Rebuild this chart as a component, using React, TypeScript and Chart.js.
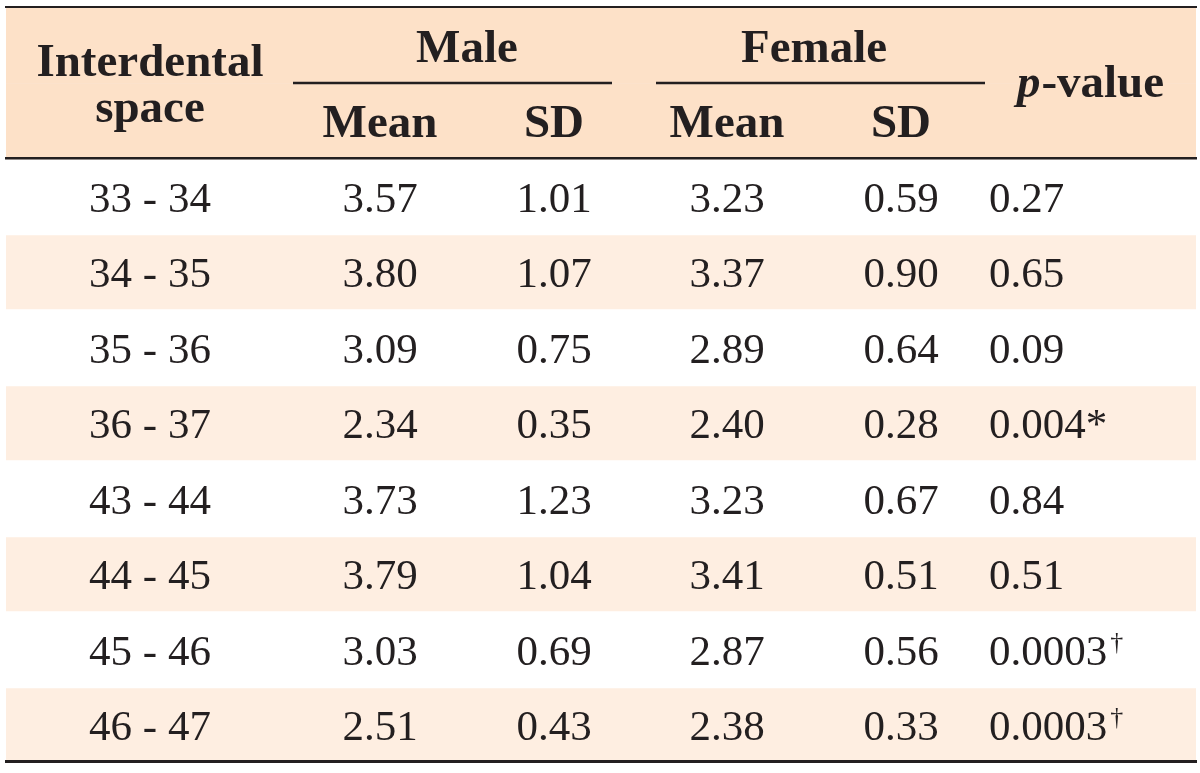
import React, { useEffect, useRef } from 'react';
import { Chart, registerables } from 'chart.js';

Chart.register(...registerables);

// ---- data ----
const rowLabels = ['33 - 34', '34 - 35', '35 - 36', '36 - 37', '43 - 44', '44 - 45', '45 - 46', '46 - 47'];
const maleMean = [3.57, 3.8, 3.09, 2.34, 3.73, 3.79, 3.03, 2.51];
const maleSD = [1.01, 1.07, 0.75, 0.35, 1.23, 1.04, 0.69, 0.43];
const femaleMean = [3.23, 3.37, 2.89, 2.4, 3.23, 3.41, 2.87, 2.38];
const femaleSD = [0.59, 0.9, 0.64, 0.28, 0.67, 0.51, 0.56, 0.33];
const pValues = ['0.27', '0.65', '0.09', '0.004', '0.84', '0.51', '0.0003', '0.0003'];
const pMarks = ['', '', '', '*', '', '', '†', '†'];
const groupHeaders = ['Male', 'Female'];
const subHeaders = ['Mean', 'SD'];
const firstHeader = ['Interdental', 'space'];
const headerSlots = ['header-top', 'header-bottom'];

// ---- layout (x positions in table units, 0..1190) ----
const COL = { label: 144, mMean: 374, mSD: 548, fMean: 721, fSD: 895, pLeft: 983, pHead: 1084 };
const GROUP = [
  { center: 461, from: 287, to: 606 },
  { center: 808, from: 650, to: 979 },
];
const X_MAX = 1190;

const INK = '#231f20';
const HEADER_BG = '#fde1c8';
const STRIPE_BG = '#feeee1';
const SERIF = '"Liberation Serif", "Times New Roman", serif';

const tablePlugin = {
  id: 'tableText',
  afterDatasetsDraw(chart: any) {
    const { ctx, chartArea } = chart;
    const xs = chart.scales.x;
    const ys = chart.scales.y;
    const X = (v: number) => xs.getPixelForValue(v);
    const Y = (i: number) => ys.getPixelForValue(i);
    const slotH = Y(1) - Y(0);
    const mid = Y(0) + slotH / 2;
    ctx.save();
    ctx.fillStyle = INK;
    ctx.strokeStyle = INK;

    const rule = (yy: number, w: number, x0 = chartArea.left - 1, x1 = chartArea.right + 1) => {
      ctx.lineWidth = w;
      ctx.beginPath();
      ctx.moveTo(x0, yy);
      ctx.lineTo(x1, yy);
      ctx.stroke();
    };
    rule(chartArea.top - 1, 2);
    rule(Y(1) + slotH / 2 - 0.8, 2.5);
    rule(chartArea.bottom - 1.5, 3);
    GROUP.forEach((g) => rule(mid - 0.5, 2.5, X(g.from), X(g.to)));

    // header text
    ctx.font = `bold 47px ${SERIF}`;
    ctx.textAlign = 'center';
    ctx.textBaseline = 'alphabetic';
    ctx.fillText(firstHeader[0], X(COL.label), mid - 7.5);
    ctx.fillText(firstHeader[1], X(COL.label), mid + 38.5);
    GROUP.forEach((g, i) => ctx.fillText(groupHeaders[i], X(g.center), Y(0) + 16));
    ctx.fillText(subHeaders[0], X(COL.mMean), Y(1) + 16);
    ctx.fillText(subHeaders[1], X(COL.mSD), Y(1) + 16);
    ctx.fillText(subHeaders[0], X(COL.fMean), Y(1) + 16);
    ctx.fillText(subHeaders[1], X(COL.fSD), Y(1) + 16);

    // p-value header
    ctx.textAlign = 'left';
    ctx.font = `italic bold 47px ${SERIF}`;
    const wp = ctx.measureText('p').width;
    ctx.font = `bold 47px ${SERIF}`;
    const wr = ctx.measureText('-value').width;
    const start = X(COL.pHead) - (wp + wr) / 2;
    ctx.font = `italic bold 47px ${SERIF}`;
    ctx.fillText('p', start, mid + 13.5);
    ctx.font = `bold 47px ${SERIF}`;
    ctx.fillText('-value', start + wp + 1, mid + 13.5);

    // body
    ctx.font = `43px ${SERIF}`;
    rowLabels.forEach((lab, i) => {
      const by = Y(i + 2) + 15;
      ctx.textAlign = 'center';
      ctx.font = `43px ${SERIF}`;
      ctx.fillText(lab, X(COL.label), by);
      ctx.fillText(maleMean[i].toFixed(2), X(COL.mMean), by);
      ctx.fillText(maleSD[i].toFixed(2), X(COL.mSD), by);
      ctx.fillText(femaleMean[i].toFixed(2), X(COL.fMean), by);
      ctx.fillText(femaleSD[i].toFixed(2), X(COL.fSD), by);
      ctx.textAlign = 'left';
      const px = X(COL.pLeft);
      ctx.fillText(pValues[i], px, by);
      const w = ctx.measureText(pValues[i]).width;
      if (pMarks[i] === '†') {
        ctx.font = `26px ${SERIF}`;
        ctx.fillText(pMarks[i], px + w + 3, by - 15);
      } else if (pMarks[i]) {
        ctx.fillText(pMarks[i], px + w, by);
      }
    });
    ctx.restore();
  },
};

export default function App() {
  const ref = useRef<HTMLCanvasElement | null>(null);
  useEffect(() => {
    if (!ref.current) return;
    const labels = [...headerSlots, ...rowLabels];
    const headerData = labels.map((_, i) => (i < 2 ? [0, X_MAX] : null));
    const stripeData = labels.map((_, i) => (i >= 2 && (i - 2) % 2 === 1 ? [0, X_MAX] : null));
    const chart = new Chart(ref.current, {
      type: 'bar',
      data: {
        labels,
        datasets: [
          {
            data: headerData as any,
            backgroundColor: HEADER_BG,
            borderWidth: 0,
            barPercentage: 1,
            categoryPercentage: 1,
            grouped: false,
          } as any,
          {
            data: stripeData as any,
            backgroundColor: STRIPE_BG,
            borderWidth: 0,
            barPercentage: 0.98,
            categoryPercentage: 1,
            grouped: false,
          } as any,
        ],
      },
      options: {
        indexAxis: 'y',
        responsive: false,
        animation: false,
        devicePixelRatio: 1,
        layout: { padding: { left: 6, right: 4, top: 8, bottom: 10 } },
        plugins: { legend: { display: false }, tooltip: { enabled: false } },
        scales: {
          x: { type: 'linear', min: 0, max: X_MAX, display: false },
          y: { type: 'category', display: false, offset: true },
        },
      } as any,
      plugins: [tablePlugin],
    });
    return () => chart.destroy();
  }, []);
  return (
    <div style={{ position: 'absolute', left: 0, top: 0, width: 1200, height: 773, background: '#ffffff' }}>
      <canvas ref={ref} width={1200} height={773} style={{ display: 'block', width: 1200, height: 773 }} />
    </div>
  );
}
